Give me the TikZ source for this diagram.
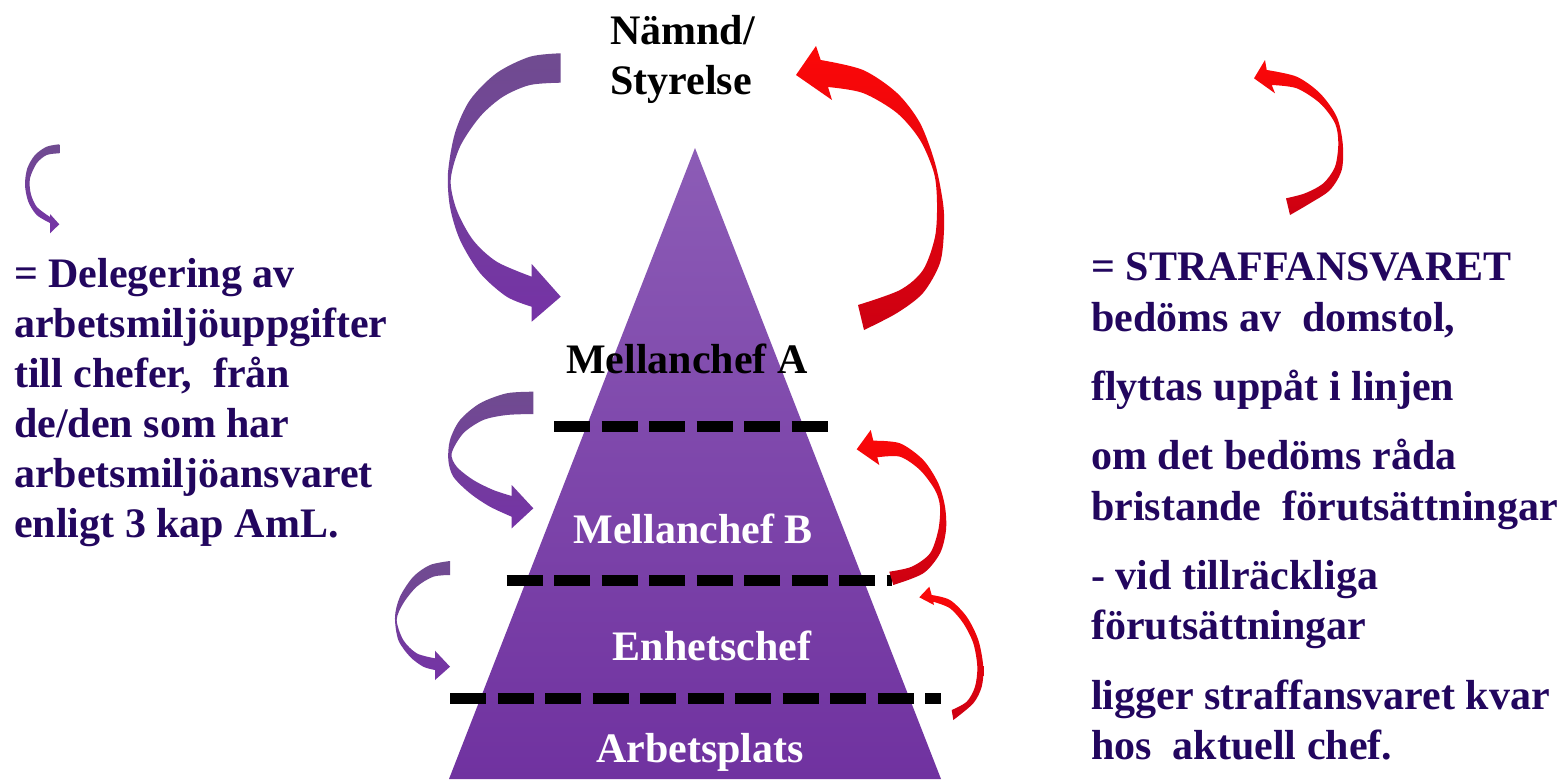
\documentclass[tikz,border=0pt]{standalone}
\usepackage{fontspec}
\setmainfont{Liberation Serif}
\definecolor{txtpurp}{RGB}{34,6,94}
\definecolor{pyrtop}{RGB}{140,92,182}
\definecolor{pyrbot}{RGB}{112,50,160}
\definecolor{patop}{RGB}{112,76,144}
\definecolor{pabot}{RGB}{117,50,166}
\definecolor{ratop}{RGB}{252,8,8}
\definecolor{rabot}{RGB}{205,0,18}
\tikzset{
  bigtxt/.style={inner sep=0pt, font=\fontsize{42}{50}\selectfont\bfseries},
  sidetxt/.style={bigtxt, anchor=base west, text=txtpurp},
  lvl/.style={bigtxt, anchor=base},
  purparrow/.style={top color=patop, bottom color=pabot},
  redarrow/.style={top color=ratop, bottom color=rabot},
  dashline/.style={line width=11pt, dash pattern=on 36pt off 11.5pt},
  pyramid/.style={top color=pyrtop, bottom color=pyrbot}
}
\begin{document}
\begin{tikzpicture}[x=1pt,y=-1pt]
\useasboundingbox (0,0) rectangle (1565,779);
\fill[white] (0,0) rectangle (1565,779);

% pyramid
\path[pyramid] (695,148) -- (941,779) -- (449,779) -- cycle;

% dashed level lines
\draw[dashline] (554,426) -- (828,426);
\draw[dashline] (506.5,580) -- (892,580);
\draw[dashline] (450,698.5) -- (941,698.5);

% big purple arrow
\path[purparrow] plot[smooth] coordinates {(560.7,53.3) (530,56.7) (496.7,73) (470,100) (455,133) (448,173) (450,207) (460,240) (480,273) (506.7,296.7) (531.7,306.7)}
  -- (531.7,321.7) -- (560.7,296.7) -- (531.7,264)
  -- plot[smooth] coordinates {(531.7,276.7) (496.7,261.7) (473,240) (456.7,210) (450.7,180) (460,146.7) (480,116.7) (503,96.7) (530,85) (560.7,82.7)} -- cycle;

% purple arrow 2
\path[purparrow] plot[smooth] coordinates {(533.3,391.7) (506.7,393.3) (480,403.3) (460,420) (450,440) (448.3,460) (453.3,476.7) (470,493.3) (490,506.7) (511.7,516.7)}
  -- (511.7,528.3) -- (533.3,508.3) -- (511.7,485)
  -- plot[smooth] coordinates {(511.7,496) (493.3,490) (473.3,480) (456.7,466.7) (451.7,453.3) (463.3,433.3) (483.3,420) (506.7,415) (533.3,414)} -- cycle;

% purple arrow 3
\path[purparrow] plot[smooth] coordinates {(450,561) (430,565) (413.3,576.7) (400,596.7) (395,616.7) (398.3,640) (410,656.7) (423.3,666.7) (435,670)}
  -- (435,680) -- (450,666.7) -- (435,650.7)
  -- plot[smooth] coordinates {(435,658.3) (416.7,653.3) (403.3,640) (396.7,620) (403.3,603.3) (416.7,586.7) (433.3,576.7) (450,575)} -- cycle;

% small purple legend arrow
\path[purparrow] plot[smooth] coordinates {(59.3,144.3) (46.7,146.7) (35,155) (27.3,168.3) (25,185) (28.3,201.7) (36.7,215) (50,223)}
  -- (50,233.3) -- (59.3,224.3) -- (50,214)
  -- plot[smooth] coordinates {(50,217) (36.7,206.7) (30.7,193.3) (30,178.3) (36.7,163.3) (46.7,155) (59.3,153.3)} -- cycle;

% big red arrow
\path[redarrow] plot[smooth] coordinates {(820.7,60) (863,70) (897,93) (920,123) (935,163) (943,203) (944,230) (940,263) (923,293) (897,313) (864,330)}
  -- plot[smooth] coordinates {(858,305) (900,290) (923,270) (935,237) (937,203) (934,173) (920,140) (897,113) (863,93) (828,87)}
  -- (832,100) -- (796,75) -- (816,46) -- cycle;

% red arrow 2
\path[redarrow] plot[smooth] coordinates {(873.3,440.7) (900,443.3) (923.3,460) (938.3,483.3) (945,506.7) (946,530) (940,553.3) (923.3,573.3) (893.3,585)}
  -- plot[smooth] coordinates {(889.3,571.7) (911.7,566.7) (930,553.3) (938.3,530) (940,506.7) (935,490) (920,470) (900,456.7) (877.3,457.3)}
  -- (879.3,465) -- (856.7,449.3) -- (870.7,430) -- cycle;

% red arrow 3
\path[redarrow] plot[smooth] coordinates {(931.7,595) (950,600) (966.7,616.7) (978.3,640) (983.3,666.7) (981.7,686.7) (973.3,703.3) (953.3,720)}
  -- plot[smooth] coordinates {(951.7,710) (966.7,701.7) (975,686.7) (977.3,666.7) (973.3,643.3) (963.3,623.3) (950,608.3) (933.3,601.7)}
  -- (934,605) -- (919.3,597.3) -- (929.3,586.7) -- cycle;

% small red legend arrow
\path[redarrow] plot[smooth] coordinates {(1266.7,70) (1296.7,76.7) (1320,93.3) (1336.7,116.7) (1342.7,143.3) (1341.7,170) (1330,190) (1310,203.3) (1290,215)}
  -- plot[smooth] coordinates {(1286,198.3) (1305,193.3) (1323.3,183.3) (1335,166.7) (1338.3,143.3) (1335,123.3) (1320,103.3) (1296.7,88.3) (1271.7,85)}
  -- (1275,93.3) -- (1254,78.3) -- (1265,60) -- cycle;

% top label
\node[bigtxt, anchor=base west] (top1) at (610,44) {Nämnd/};
\node[bigtxt, anchor=base west] (top2) at (610,94) {Styrelse};

% pyramid labels
\node[lvl] (lA) at (687,373) {Mellanchef A};
\node[lvl, text=white] (lB) at (693,543) {Mellanchef B};
\node[lvl, text=white] (lC) at (712,660) {Enhetschef};
\node[lvl, text=white] (lD) at (700,762) {Arbetsplats};

% left text
\node[sidetxt] (L1) at (14,287) {= Delegering av};
\node[sidetxt] (L2) at (14,337) {arbetsmiljöuppgifter};
\node[sidetxt] (L3) at (14,387) {till chefer,\ \ från};
\node[sidetxt] (L4) at (14,437) {de/den som har};
\node[sidetxt] (L5) at (14,487) {arbetsmiljöansvaret};
\node[sidetxt] (L6) at (14,537) {enligt 3 kap AmL.};

% right text
\node[sidetxt] (R1) at (1091,280) {= STRAFFANSVARET};
\node[sidetxt] (R2) at (1091,331) {bedöms av\ \ domstol,};
\node[sidetxt] (R3) at (1091,400) {flyttas uppåt i linjen};
\node[sidetxt] (R4) at (1091,469) {om det bedöms råda};
\node[sidetxt] (R5) at (1091,520) {bristande\ \ förutsättningar};
\node[sidetxt] (R6) at (1091,589) {- vid tillräckliga};
\node[sidetxt] (R7) at (1091,639) {förutsättningar};
\node[sidetxt] (R8) at (1091,709) {ligger straffansvaret kvar};
\node[sidetxt] (R9) at (1091,759) {hos\ \ aktuell chef.};
\end{tikzpicture}
\end{document}
